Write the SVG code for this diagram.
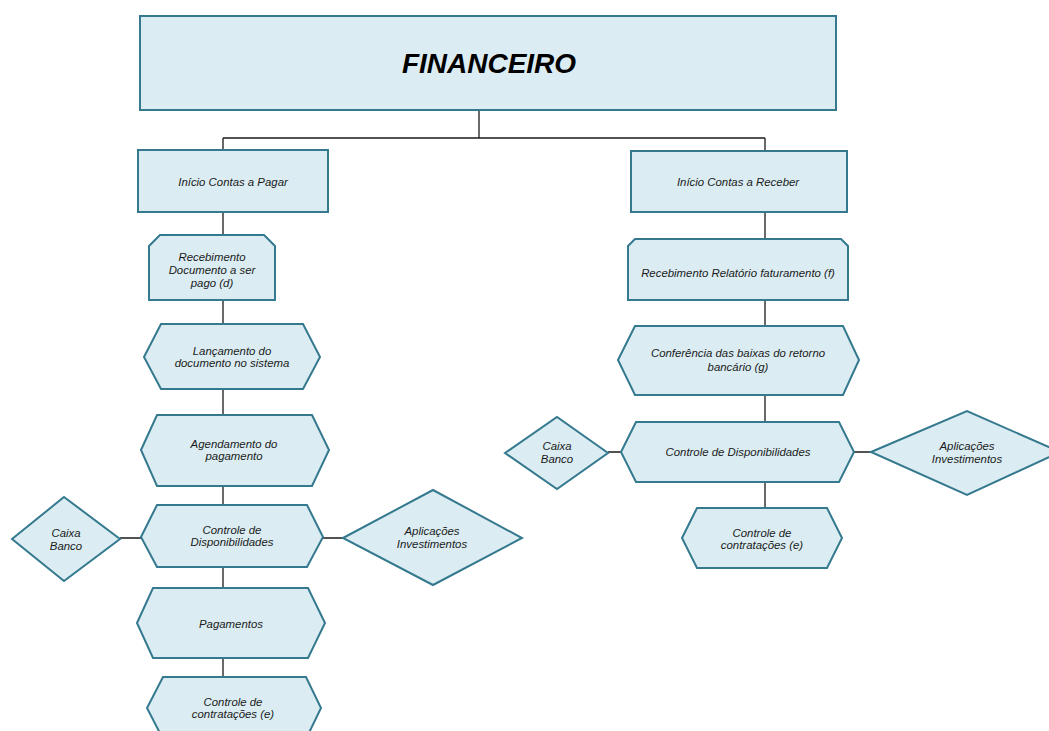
<svg xmlns="http://www.w3.org/2000/svg" width="1049" height="731" viewBox="0 0 1049 731">
<style>
.n{fill:#dbedf3;stroke:#35798f;stroke-width:2}
.t{font-family:"Liberation Sans",Arial,sans-serif;font-size:11.4px;font-style:italic;fill:#1a1a1a;text-anchor:middle}
.title{font-family:"Liberation Sans",Arial,sans-serif;font-size:28px;font-style:italic;font-weight:bold;fill:#000;text-anchor:middle}
.c{stroke:#1a1a1a;stroke-width:1.3;fill:none}
</style>
<rect width="1049" height="731" fill="#fff"/>
<g id="connectors">
<path class="c" d="M479 110V138M223 138H765M223 138V150M765 138V151"/>
<path class="c" d="M223 212V235M223 300V324M223 389V415M223 486V505M223 567V588M223 658V677"/>
<path class="c" d="M120 538H141M323 538H343"/>
<path class="c" d="M765 212V239M765 300V326M765 395V422M765 482V508"/>
<path class="c" d="M608 452H621M854 452H871"/>
</g>
<g id="financeiro"><rect class="n" x="140" y="16" width="696" height="94"/><text class="title" x="489" y="73">FINANCEIRO</text></g>
<g id="inicio-pagar"><rect class="n" x="138" y="150" width="190" height="62"/><text class="t" x="233" y="186">Início Contas a Pagar</text></g>
<g id="recebimento-doc"><path class="n" d="M149 246L160 235H264L275 246V300H149Z"/><text class="t" x="212" y="261">Recebimento</text><text class="t" x="212" y="274">Documento a ser</text><text class="t" x="212" y="287">pago (d)</text></g>
<g id="lancamento"><path class="n" d="M144 357L161 324H303L320 357L303 389H161Z"/><text class="t" x="232" y="355">Lançamento do</text><text class="t" x="232" y="367">documento no sistema</text></g>
<g id="agendamento"><path class="n" d="M141 450L157 415H312L329 450L312 486H157Z"/><text class="t" x="234" y="448">Agendamento do</text><text class="t" x="234" y="460">pagamento</text></g>
<g id="controle-disp-l"><path class="n" d="M141 537L157 505H307L323 537L307 567H157Z"/><text class="t" x="232" y="534">Controle de</text><text class="t" x="232" y="546">Disponibilidades</text></g>
<g id="caixa-l"><path class="n" d="M12 539L64 497L120 539L64 581Z"/><text class="t" x="66" y="537">Caixa</text><text class="t" x="66" y="550">Banco</text></g>
<g id="aplicacoes-l"><path class="n" d="M343 538L433 490L522 538L433 585Z"/><text class="t" x="432" y="535">Aplicações</text><text class="t" x="432" y="548">Investimentos</text></g>
<g id="pagamentos"><path class="n" d="M137 623L153 588H308L325 623L308 658H153Z"/><text class="t" x="231" y="628">Pagamentos</text></g>
<g id="contratacoes-l"><path class="n" d="M147 708L163 677H306L321 708L306 739H163Z"/><text class="t" x="233" y="706">Controle de</text><text class="t" x="233" y="718">contratações (e)</text></g>
<g id="inicio-receber"><rect class="n" x="631" y="151" width="216" height="61"/><text class="t" x="738" y="186">Início Contas a Receber</text></g>
<g id="recebimento-rel"><path class="n" d="M628 246L635 239H841L848 246V300H628Z"/><text class="t" x="738" y="277">Recebimento Relatório faturamento (f)</text></g>
<g id="conferencia"><path class="n" d="M618 360L635 326H843L859 360L843 395H635Z"/><text class="t" x="738" y="357">Conferência das baixas do retorno</text><text class="t" x="738" y="371">bancário (g)</text></g>
<g id="controle-disp-r"><path class="n" d="M621 452L636 422H839L854 452L839 482H636Z"/><text class="t" x="738" y="456">Controle de Disponibilidades</text></g>
<g id="caixa-r"><path class="n" d="M505 453L557 417L608 453L557 489Z"/><text class="t" x="557" y="450">Caixa</text><text class="t" x="557" y="463">Banco</text></g>
<g id="aplicacoes-r"><path class="n" d="M871 452L967 411L1060 452L967 495Z"/><text class="t" x="967" y="450">Aplicações</text><text class="t" x="967" y="463">Investimentos</text></g>
<g id="contratacoes-r"><path class="n" d="M682 538L697 508H827L842 538L827 568H697Z"/><text class="t" x="762" y="537">Controle de</text><text class="t" x="762" y="549">contratações (e)</text></g>
</svg>
